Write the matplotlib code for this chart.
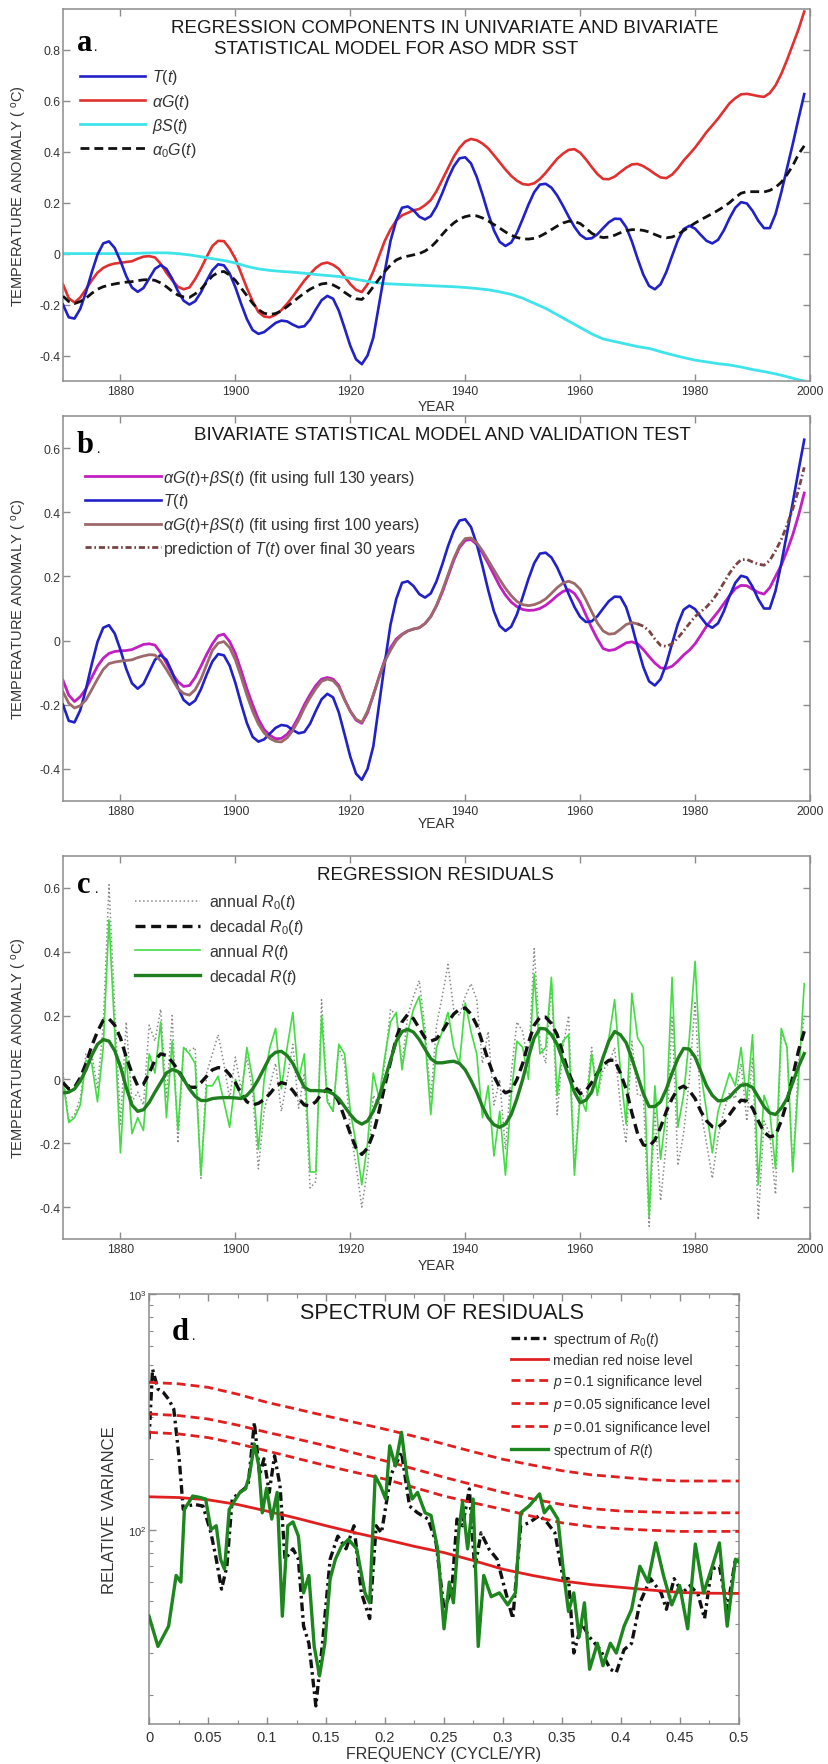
import numpy as np
import matplotlib
matplotlib.use('Agg')
import matplotlib.pyplot as plt
from matplotlib.ticker import FixedLocator, FuncFormatter, LogLocator, NullFormatter

plt.rcParams['font.family'] = ['Liberation Sans', 'DejaVu Sans']
plt.rcParams['mathtext.fontset'] = 'custom'
plt.rcParams['mathtext.rm'] = 'Liberation Sans'
plt.rcParams['mathtext.it'] = 'Liberation Sans:italic'
plt.rcParams['mathtext.bf'] = 'Liberation Sans:bold'
plt.rcParams['axes.unicode_minus'] = False

# ---------------- data ----------------
years1 = list(range(1870, 2000))
years2 = list(range(1870, 1999, 2)) + [1999]
years_fit100 = list(range(1870, 1971))
years_pred = list(range(1970, 2000))

T_t = [-0.20, -0.25, -0.255, -0.217, -0.151, -0.074, -0.004, 0.040, 0.048, 0.022,
       -0.029, -0.088, -0.133, -0.15, -0.135, -0.0975, -0.060, -0.045, -0.060, -0.0985,
       -0.147, -0.185, -0.20, -0.187, -0.152, -0.106, -0.065, -0.042, -0.046, -0.078,
       -0.132, -0.197, -0.257, -0.30, -0.315, -0.308, -0.29, -0.272, -0.263, -0.266,
       -0.279, -0.289, -0.285, -0.259, -0.219, -0.183, -0.166, -0.177, -0.224, -0.292,
       -0.362, -0.415, -0.434, -0.40, -0.33, -0.20, -0.07, 0.05, 0.13, 0.18,
       0.185, 0.17, 0.145, 0.134, 0.147, 0.185, 0.237, 0.294, 0.342, 0.374,
       0.378, 0.354, 0.301, 0.232, 0.157, 0.091, 0.046, 0.03, 0.0435, 0.082,
       0.136, 0.192, 0.241, 0.271, 0.274, 0.259, 0.228, 0.188, 0.145, 0.105,
       0.074, 0.058, 0.06, 0.076, 0.10, 0.123, 0.137, 0.136, 0.104, 0.048,
       -0.02, -0.083, -0.127, -0.14, -0.12, -0.072, -0.009, 0.052, 0.096, 0.109,
       0.098, 0.073, 0.05, 0.04, 0.054, 0.091, 0.139, 0.18, 0.202, 0.197,
       0.168, 0.129, 0.10, 0.10, 0.155, 0.24, 0.335, 0.43, 0.53, 0.626]

alphaG = [-0.121, -0.175, -0.192, -0.172, -0.14, -0.105, -0.075, -0.056, -0.045, -0.039,
          -0.036, -0.033, -0.03, -0.02, -0.012, -0.01, -0.015, -0.04, -0.0755, -0.105,
          -0.13, -0.14, -0.133, -0.1, -0.059, -0.013, 0.03, 0.05, 0.049, 0.02,
          -0.02, -0.078, -0.135, -0.187, -0.229, -0.247, -0.25, -0.24, -0.222, -0.197,
          -0.168, -0.137, -0.106, -0.08, -0.056, -0.04, -0.035, -0.044, -0.06, -0.09,
          -0.12, -0.142, -0.151, -0.12, -0.07, -0.01, 0.05, 0.095, 0.13, 0.15,
          0.16, 0.17, 0.175, 0.19, 0.21, 0.245, 0.29, 0.335, 0.38, 0.415,
          0.44, 0.45, 0.445, 0.432, 0.413, 0.386, 0.358, 0.33, 0.305, 0.286,
          0.273, 0.27, 0.276, 0.293, 0.317, 0.345, 0.372, 0.392, 0.407, 0.41,
          0.396, 0.37, 0.34, 0.312, 0.293, 0.292, 0.302, 0.32, 0.337, 0.35,
          0.352, 0.343, 0.329, 0.313, 0.299, 0.296, 0.31, 0.335, 0.365, 0.39,
          0.416, 0.446, 0.477, 0.503, 0.53, 0.56, 0.59, 0.61, 0.625, 0.627,
          0.623, 0.618, 0.615, 0.63, 0.66, 0.705, 0.76, 0.82, 0.88, 0.95]

betaS = [0, 0, 0, 0, 0, 0, 0, 0.002, 0.003, 0.003,
         0.0, -0.005, -0.012, -0.02, -0.027, -0.037, -0.05, -0.06, -0.066, -0.07,
         -0.073, -0.077, -0.082, -0.086, -0.09, -0.097, -0.105, -0.113, -0.118, -0.12,
         -0.122, -0.124, -0.126, -0.128, -0.13, -0.133, -0.137, -0.142, -0.15, -0.16,
         -0.175, -0.195, -0.215, -0.24, -0.265, -0.29, -0.315, -0.335, -0.345, -0.355,
         -0.365, -0.372, -0.385, -0.397, -0.408, -0.418, -0.425, -0.432, -0.437, -0.445,
         -0.455, -0.463, -0.472, -0.483, -0.495, -0.50]

alpha0G = [-0.167, -0.188, -0.196, -0.188, -0.175, -0.156, -0.14, -0.13, -0.124, -0.119,
           -0.115, -0.112, -0.11, -0.106, -0.103, -0.102, -0.105, -0.115, -0.13, -0.148,
           -0.163, -0.17, -0.172, -0.158, -0.14, -0.113, -0.088, -0.074, -0.07, -0.084,
           -0.105, -0.135, -0.165, -0.195, -0.22, -0.234, -0.239, -0.235, -0.225, -0.208,
           -0.19, -0.172, -0.155, -0.14, -0.128, -0.119, -0.116, -0.123, -0.135, -0.152,
           -0.167, -0.177, -0.18, -0.16, -0.13, -0.1, -0.07, -0.045, -0.025, -0.015,
           -0.01, -0.005, 0.0, 0.01, 0.025, 0.048, 0.075, 0.1, 0.12, 0.136,
           0.145, 0.15, 0.148, 0.14, 0.128, 0.114, 0.1, 0.085, 0.072, 0.063,
           0.058, 0.057, 0.06, 0.068, 0.08, 0.094, 0.108, 0.12, 0.127, 0.126,
           0.118, 0.1, 0.08, 0.068, 0.063, 0.065, 0.072, 0.082, 0.09, 0.094,
           0.094, 0.091, 0.085, 0.075, 0.066, 0.062, 0.065, 0.075, 0.09, 0.105,
           0.12, 0.133, 0.145, 0.157, 0.17, 0.184, 0.2, 0.22, 0.237, 0.243,
           0.243, 0.243, 0.242, 0.248, 0.26, 0.28, 0.31, 0.345, 0.39, 0.423]

fit_full = [-0.124, -0.17, -0.19, -0.175, -0.15, -0.115, -0.08, -0.055, -0.04, -0.034,
            -0.032, -0.031, -0.028, -0.02, -0.012, -0.01, -0.014, -0.038, -0.07, -0.103,
            -0.128, -0.143, -0.14, -0.115, -0.08, -0.043, -0.01, 0.015, 0.02, -0.003,
            -0.04, -0.093, -0.15, -0.2, -0.245, -0.277, -0.295, -0.306, -0.305, -0.292,
            -0.27, -0.238, -0.2, -0.168, -0.14, -0.12, -0.115, -0.12, -0.14, -0.183,
            -0.22, -0.248, -0.258, -0.225, -0.17, -0.113, -0.06, -0.022, 0.005, 0.02,
            0.03, 0.036, 0.04, 0.053, 0.075, 0.108, 0.15, 0.2, 0.25, 0.29,
            0.312, 0.315, 0.3, 0.273, 0.24, 0.205, 0.17, 0.142, 0.12, 0.106,
            0.097, 0.094, 0.095, 0.1, 0.11, 0.124, 0.14, 0.153, 0.159, 0.147,
            0.12, 0.08, 0.04, 0.005, -0.025, -0.031, -0.028, -0.018, -0.007, -0.004,
            -0.01, -0.028, -0.05, -0.07, -0.085, -0.087, -0.08, -0.064, -0.045, -0.03,
            -0.01, 0.017, 0.045, 0.068, 0.09, 0.115, 0.14, 0.162, 0.172, 0.171,
            0.16, 0.15, 0.145, 0.165, 0.2, 0.235, 0.28, 0.33, 0.39, 0.46]

fit_100 = [-0.16, -0.195, -0.21, -0.203, -0.185, -0.153, -0.12, -0.09, -0.072, -0.067,
           -0.064, -0.062, -0.06, -0.053, -0.048, -0.044, -0.045, -0.063, -0.09, -0.12,
           -0.15, -0.165, -0.17, -0.153, -0.12, -0.075, -0.03, -0.008, -0.003, -0.022,
           -0.06, -0.113, -0.17, -0.22, -0.26, -0.288, -0.305, -0.314, -0.316, -0.303,
           -0.28, -0.248, -0.21, -0.178, -0.15, -0.127, -0.12, -0.125, -0.145, -0.185,
           -0.22, -0.245, -0.255, -0.22, -0.17, -0.115, -0.065, -0.03, 0.0, 0.018,
           0.03, 0.036, 0.04, 0.053, 0.075, 0.11, 0.155, 0.205, 0.255, 0.295,
           0.318, 0.32, 0.305, 0.28, 0.25, 0.22, 0.19, 0.163, 0.14, 0.122,
           0.112, 0.109, 0.112, 0.119, 0.13, 0.147, 0.165, 0.179, 0.185, 0.178,
           0.16, 0.127, 0.09, 0.055, 0.03, 0.02, 0.022, 0.035, 0.05, 0.056,
           0.052]

prediction = [0.052, 0.045, 0.03, 0.005, -0.015, -0.018, -0.01, 0.008, 0.03, 0.053,
              0.075, 0.09, 0.105, 0.125, 0.15, 0.18, 0.21, 0.235, 0.252, 0.253,
              0.245, 0.238, 0.235, 0.25, 0.28, 0.315, 0.36, 0.41, 0.47, 0.54]

annual_R0 = [0.02, -0.13, -0.11, -0.06, 0.08, 0.08, -0.03, 0.17, 0.61, 0.22,
             -0.14, 0.18, -0.07, -0.04, -0.08, 0.17, 0.12, 0.22, -0.06, 0.2,
             -0.2, 0.1, 0.09, 0.1, -0.31, 0.02, 0.08, 0.14, 0.05, -0.06,
             0.07, -0.03, 0.07, -0.04, -0.28, -0.1, -0.02, 0.05, -0.1, 0.0,
             0.11, -0.09, 0.02, -0.34, -0.32, 0.25, -0.06, -0.1, 0.1, 0.05,
             -0.16, -0.27, -0.4, -0.28, -0.05, -0.08, 0.05, 0.22, 0.2, 0.05,
             0.2, 0.26, 0.31, 0.16, -0.06, 0.17, 0.26, 0.36, 0.22, 0.2,
             0.26, 0.3, 0.25, 0.05, 0.15, -0.08, 0.0, -0.22, 0.02, 0.18,
             0.15, 0.04, 0.41, 0.12, 0.05, 0.3, -0.11, 0.1, 0.2, -0.28,
             -0.03, -0.07, 0.1, -0.05, 0.03, 0.05, 0.1, -0.08, -0.2, 0.12,
             -0.05, -0.05, -0.46, -0.1, -0.38, -0.2, 0.2, -0.27, -0.17, 0.0,
             0.24, -0.1, -0.2, -0.31, -0.18, -0.1, -0.04, -0.06, 0.05, -0.13,
             0.07, -0.44, -0.13, -0.17, -0.36, 0.15, 0.1, -0.28, 0.05, 0.2]

annual_R = [-0.005, -0.135, -0.12, -0.08, 0.06, 0.05, -0.07, 0.1, 0.5, 0.15,
            -0.23, 0.08, -0.17, -0.12, -0.16, 0.08, 0.02, 0.18, -0.12, 0.12,
            -0.16, 0.1, 0.08, 0.05, -0.3, -0.02, -0.02, 0.01, -0.07, -0.15,
            0.0, -0.06, 0.1, 0.0, -0.22, 0.0, 0.1, 0.16, -0.03, 0.1,
            0.21, 0.0, 0.08, -0.29, -0.29, 0.2, -0.07, -0.1, 0.11, 0.08,
            -0.1, -0.2, -0.33, -0.2, 0.02, -0.06, 0.07, 0.18, 0.21, 0.03,
            0.15, 0.22, 0.26, 0.13, -0.11, 0.1, 0.15, 0.21, 0.1, 0.05,
            0.24, 0.15, 0.08, -0.12, -0.02, -0.24, -0.1, -0.3, -0.05, 0.12,
            0.1, 0.0, 0.33, 0.08, 0.1, 0.32, -0.05, 0.12, 0.14, -0.3,
            -0.05, -0.1, 0.08, -0.05, 0.07, 0.13, 0.25, 0.03, -0.14, 0.27,
            0.13, 0.1, -0.43, -0.02, -0.25, -0.1, 0.32, -0.15, -0.05, 0.13,
            0.37, 0.02, -0.1, -0.23, -0.1, -0.04, 0.02, -0.02, 0.1, -0.07,
            0.14, -0.33, -0.05, -0.1, -0.28, 0.16, 0.1, -0.29, 0.0, 0.3]

decadal_R0 = [-0.01, -0.03, -0.025, 0.005, 0.05, 0.105, 0.15, 0.185, 0.19, 0.17,
              0.13, 0.07, 0.02, -0.02, -0.015, 0.02, 0.06, 0.08, 0.075, 0.055,
              0.03, 0.0, -0.024, -0.025, -0.01, 0.01, 0.03, 0.037, 0.035, 0.015,
              -0.01, -0.045, -0.07, -0.08, -0.075, -0.063, -0.045, -0.022, -0.01, -0.015,
              -0.035, -0.06, -0.08, -0.083, -0.07, -0.045, -0.03, -0.04, -0.07, -0.12,
              -0.17, -0.215, -0.235, -0.215, -0.17, -0.1, -0.02, 0.055, 0.13, 0.18,
              0.204, 0.19, 0.16, 0.13, 0.12, 0.127, 0.15, 0.18, 0.205, 0.22,
              0.224, 0.205, 0.17, 0.115, 0.06, 0.01, -0.025, -0.042, -0.035, 0.0,
              0.05, 0.115, 0.17, 0.195, 0.195, 0.175, 0.14, 0.08, 0.02, -0.02,
              -0.045, -0.035, -0.01, 0.02, 0.045, 0.06, 0.06, 0.02, -0.03, -0.105,
              -0.17, -0.205, -0.21, -0.19, -0.15, -0.1, -0.06, -0.03, -0.021, -0.035,
              -0.06, -0.1, -0.13, -0.148, -0.15, -0.135, -0.11, -0.085, -0.065, -0.068,
              -0.09, -0.13, -0.165, -0.18, -0.175, -0.13, -0.07, 0.01, 0.09, 0.151]

decadal_R = [-0.042, -0.04, -0.03, -0.005, 0.03, 0.075, 0.11, 0.125, 0.12, 0.09,
             0.04, -0.025, -0.08, -0.1, -0.095, -0.072, -0.04, -0.01, 0.02, 0.031,
             0.025, 0.0, -0.03, -0.053, -0.066, -0.066, -0.06, -0.058, -0.057, -0.057,
             -0.058, -0.06, -0.05, -0.03, 0.0, 0.035, 0.07, 0.085, 0.088, 0.075,
             0.05, 0.012, -0.025, -0.035, -0.035, -0.036, -0.037, -0.045, -0.06, -0.085,
             -0.11, -0.13, -0.14, -0.13, -0.1, -0.055, 0.0, 0.06, 0.12, 0.15,
             0.157, 0.148, 0.125, 0.095, 0.065, 0.052, 0.052, 0.055, 0.057, 0.05,
             0.03, -0.003, -0.04, -0.085, -0.12, -0.142, -0.15, -0.14, -0.11, -0.06,
             0.0, 0.07, 0.13, 0.16, 0.158, 0.14, 0.11, 0.06, 0.01, -0.04,
             -0.073, -0.065, -0.04, 0.015, 0.07, 0.12, 0.15, 0.14, 0.115, 0.065,
             0.01, -0.045, -0.085, -0.085, -0.07, -0.03, 0.02, 0.065, 0.097, 0.095,
             0.07, 0.025, -0.02, -0.05, -0.067, -0.066, -0.055, -0.035, -0.018, -0.016,
             -0.025, -0.055, -0.085, -0.105, -0.11, -0.09, -0.06, -0.01, 0.04, 0.081]

# spectra
freq_levels = [0.0, 0.025, 0.05, 0.075, 0.1, 0.125, 0.15, 0.175, 0.2, 0.225, 0.25,
               0.275, 0.3, 0.325, 0.35, 0.375, 0.4, 0.425, 0.45, 0.475, 0.5]
red_median = [138, 137, 134, 128, 120, 112, 104, 97, 91, 85, 80,
              74, 68, 64, 60.7, 58.5, 57, 55.5, 54.2, 53.8, 53.7]
sig_p10 = [422, 416, 402, 376, 347, 325, 304, 285, 267, 249, 231,
           214, 199, 188, 178, 171, 167, 163, 161, 161, 161]
sig_p05 = [310, 305, 295, 278, 259, 243, 227, 211, 196, 181, 167,
           155, 144, 135, 128, 123, 120, 119, 118, 118, 118]
sig_p01 = [259, 255, 246, 232, 216, 201, 187, 175, 164, 151, 139,
           130, 122, 114, 107, 103, 101, 99.5, 98.4, 98.4, 98.4]

freq_R = [0.0, 0.0076, 0.0166, 0.023, 0.027, 0.030, 0.037, 0.0435, 0.048, 0.0525,
          0.057, 0.0606, 0.064, 0.068, 0.077, 0.0817, 0.085, 0.0893, 0.093, 0.096,
          0.0996, 0.104, 0.1086, 0.113, 0.1176, 0.122, 0.1266, 0.131, 0.1355, 0.140,
          0.1445, 0.149, 0.1535, 0.158, 0.163, 0.169, 0.176, 0.183, 0.187, 0.1917,
          0.196, 0.2006, 0.204, 0.2087, 0.214, 0.2186, 0.223, 0.2276, 0.234, 0.239,
          0.2446, 0.25, 0.2545, 0.258, 0.2626, 0.2657, 0.270, 0.2747, 0.279, 0.2837,
          0.290, 0.297, 0.304, 0.3106, 0.315, 0.322, 0.331, 0.335, 0.3397, 0.3465,
          0.351, 0.3555, 0.36, 0.3645, 0.369, 0.3734, 0.380, 0.3847, 0.391, 0.396,
          0.4026, 0.409, 0.416, 0.4228, 0.4295, 0.436, 0.443, 0.4497, 0.4565, 0.463,
          0.470, 0.4766, 0.4834, 0.490, 0.497, 0.5]
spec_R = [43, 32, 39, 64, 60, 122, 139, 137, 135, 100,
          104, 75, 68, 122, 144, 149, 169, 231, 187, 118,
          150, 111, 144, 43, 104, 108, 94, 54, 64, 32,
          24, 33, 62, 75, 85, 91, 83, 54, 49, 169,
          154, 135, 227, 187, 259, 169, 135, 144, 118, 115,
          83, 38, 60, 49, 100, 131, 83, 135, 32, 64,
          52, 54, 48, 54, 118, 126, 142, 118, 126, 111,
          68, 45, 54, 35, 49, 25.6, 33, 26.5, 33, 30,
          39, 46, 70, 60, 88, 64, 48, 58, 38, 87,
          54, 68, 88, 39, 75, 73]

freq_R0 = [0.0, 0.003, 0.0076, 0.012, 0.0166, 0.021, 0.0256, 0.029, 0.032, 0.039,
           0.0458, 0.0525, 0.057, 0.0615, 0.066, 0.0705, 0.077, 0.084, 0.0893, 0.0938,
           0.0974, 0.1019, 0.1064, 0.111, 0.1153, 0.122, 0.1266, 0.131, 0.1355, 0.1414,
           0.147, 0.1535, 0.160, 0.167, 0.1737, 0.180, 0.187, 0.1925, 0.197, 0.205,
           0.214, 0.2208, 0.2276, 0.2365, 0.2433, 0.25, 0.2567, 0.261, 0.2657, 0.2715,
           0.276, 0.2814, 0.288, 0.295, 0.3016, 0.3083, 0.315, 0.322, 0.331, 0.3375,
           0.344, 0.351, 0.3555, 0.36, 0.3667, 0.3734, 0.3824, 0.391, 0.396, 0.4026,
           0.409, 0.416, 0.425, 0.434, 0.4385, 0.445, 0.452, 0.4587, 0.4654, 0.4708,
           0.4766, 0.4834, 0.490, 0.497, 0.5]
spec_R0 = [242, 480, 395, 383, 358, 325, 200, 122, 126, 128,
           126, 97, 75, 56, 70, 135, 144, 154, 285, 171,
           200, 144, 206, 154, 75, 83, 75, 39, 33, 17.9,
           33, 75, 94, 83, 104, 54, 42, 104, 97, 171,
           213, 126, 118, 111, 88, 46, 56, 111, 104, 149,
           68, 97, 83, 75, 56, 42, 104, 107, 115, 107,
           97, 62, 62, 30, 40, 35, 31, 25.6, 24.8, 31,
           33, 49, 62, 54, 46, 62, 54, 58, 53, 42,
           68, 70, 46, 75, 75]

# ---------------- figure ----------------
fig = plt.figure(figsize=(8.29, 17.65), dpi=100)
FW, FH = 829.0, 1765.0

def add_ax(l, r, t, b):
    return fig.add_axes([l / FW, 1 - b / FH, (r - l) / FW, (b - t) / FH])

ax_a = add_ax(63, 810, 10, 382)
ax_b = add_ax(63, 810, 417, 802)
ax_c = add_ax(63, 810, 857, 1240)
ax_d = add_ax(149, 739, 1295, 1725)

SPINE = '#8c8c8c'
LABC = '#333333'
TITC = '#1a1a1a'

def style(ax):
    for s in ax.spines.values():
        s.set_color(SPINE)
        s.set_linewidth(1.1)
    ax.tick_params(which='both', direction='in', top=True, right=True,
                   color=SPINE, labelcolor=LABC)
    ax.tick_params(which='major', length=5, width=1)
    ax.tick_params(which='minor', length=3, width=0.8)
    ax.tick_params(axis='x', pad=3)
    ax.tick_params(axis='y', pad=2)

fmt = FuncFormatter(lambda v, p: ('%g' % round(v, 3)))

def year_axes(ax, ylo, yhi, yticks):
    style(ax)
    ax.set_xlim(1870, 2000)
    ax.set_ylim(ylo, yhi)
    ax.xaxis.set_major_locator(FixedLocator([1880, 1900, 1920, 1940, 1960, 1980, 2000]))
    ax.yaxis.set_major_locator(FixedLocator(yticks))
    ax.yaxis.set_major_formatter(fmt)
    ax.tick_params(labelsize=8.8)
    ax.set_xlabel('YEAR', fontsize=10, color=LABC)
    ax.set_ylabel(r'TEMPERATURE ANOMALY ( $^{\rm o}$C)', fontsize=10.5, color=LABC)
    ax.yaxis.set_label_coords(-0.046, 0.5)

def letter(ax, ch, x, y, xdot):
    ax.text(x, y, ch, transform=ax.transAxes, fontfamily='Liberation Serif',
            fontweight='bold', fontsize=22, va='baseline', ha='left')
    ax.text(xdot, y, '.', transform=ax.transAxes, fontfamily='Liberation Serif',
            fontsize=10, va='baseline', ha='left')

LEGF = 11.5

# ---- panel a ----
ax = ax_a
l1, = ax.plot(years1, T_t, color='#2121c8', lw=1.9, zorder=3)
l2, = ax.plot(years1, alphaG, color='#e03030', lw=1.9, zorder=2)
l3, = ax.plot(years2, betaS, color='#3fe3ea', lw=2.0, zorder=2)
l4, = ax.plot(years1, alpha0G, color='#111111', lw=2.0, dashes=(3.2, 1.8), zorder=4)
year_axes(ax, -0.5, 0.96, [-0.4, -0.2, 0, 0.2, 0.4, 0.6, 0.8])
ax.xaxis.set_label_coords(0.5, -0.048)
ax.text(0.511, 0.949, 'REGRESSION COMPONENTS IN UNIVARIATE AND BIVARIATE',
        transform=ax.transAxes, ha='center', va='center', fontsize=13.5, color=TITC)
ax.text(0.202, 0.895, 'STATISTICAL MODEL FOR ASO MDR SST',
        transform=ax.transAxes, ha='left', va='center', fontsize=13.5, color=TITC)
letter(ax, 'a', 0.0187, 0.891, 0.040)
ax.legend([l1, l2, l3, l4], [r'$T(t)$', r'$\alpha G(t)$', r'$\beta S(t)$', r'$\alpha_0 G(t)$'],
          loc='upper left', bbox_to_anchor=(0.0228, 0.843), frameon=False,
          borderpad=0, borderaxespad=0, fontsize=LEGF, handlelength=4.06,
          handletextpad=0.44, labelspacing=0.32, labelcolor=LABC)

# ---- panel b ----
ax = ax_b
m1, = ax.plot(years1, fit_full, color='#c21fc2', lw=2.0, zorder=2)
m2, = ax.plot(years1, T_t, color='#2121c8', lw=1.9, zorder=3)
m3, = ax.plot(years_fit100, fit_100, color='#9c6a6a', lw=2.0, zorder=4)
m4, = ax.plot(years_pred, prediction, color='#7a4444', lw=2.0, dashes=(2.2, 1.0, 0.6, 1.0), zorder=4)
year_axes(ax, -0.5, 0.7, [-0.4, -0.2, 0, 0.2, 0.4, 0.6])
ax.xaxis.set_label_coords(0.5, -0.039)
ax.text(0.508, 0.951, 'BIVARIATE STATISTICAL MODEL AND VALIDATION TEST',
        transform=ax.transAxes, ha='center', va='center', fontsize=13.5, color=TITC)
letter(ax, 'b', 0.0187, 0.906, 0.044)
ax.legend([m1, m2, m3, m4],
          [r'$\alpha G(t)$+$\beta S(t)$ (fit using full 130 years)', r'$T(t)$',
           r'$\alpha G(t)$+$\beta S(t)$ (fit using first 100 years)',
           r'prediction of $T(t)$ over final 30 years'],
          loc='upper left', bbox_to_anchor=(0.0295, 0.866), frameon=False,
          borderpad=0, borderaxespad=0, fontsize=LEGF, handlelength=4.75,
          handletextpad=0.1, labelspacing=0.3, labelcolor=LABC)

# ---- panel c ----
ax = ax_c
n1, = ax.plot(years1, annual_R0, color='#8a8a8a', lw=1.1, ls=':', zorder=1)
n3, = ax.plot(years1, annual_R, color='#42dd42', lw=1.2, zorder=2)
n2, = ax.plot(years1, decadal_R0, color='#111111', lw=2.4, dashes=(3.0, 1.7), zorder=3)
n4, = ax.plot(years1, decadal_R, color='#1f7f1f', lw=2.4, zorder=4)
year_axes(ax, -0.5, 0.7, [-0.4, -0.2, 0, 0.2, 0.4, 0.6])
ax.xaxis.set_label_coords(0.5, -0.0496)
ax.text(0.499, 0.953, 'REGRESSION RESIDUALS', transform=ax.transAxes,
        ha='center', va='center', fontsize=13.5, color=TITC)
letter(ax, 'c', 0.0187, 0.906, 0.0415)
ax.legend([n1, n2, n3, n4],
          [r'annual $R_0(t)$', r'decadal $R_0(t)$', r'annual $R(t)$', r'decadal $R(t)$'],
          loc='upper left', bbox_to_anchor=(0.0964, 0.905), frameon=False,
          borderpad=0, borderaxespad=0, fontsize=LEGF, handlelength=4.06,
          handletextpad=0.6, labelspacing=0.36, labelcolor=LABC)

# ---- panel d ----
ax = ax_d
style(ax)
p1, = ax.plot(freq_R0, spec_R0, color='#111111', lw=2.4, dashes=(2.6, 1.2, 0.8, 1.2), zorder=2)
p2, = ax.plot(freq_levels, red_median, color='#e02020', lw=2.0, zorder=3)
p3, = ax.plot(freq_levels, sig_p10, color='#e02020', lw=2.0, dashes=(3.2, 1.8), zorder=3)
p4, = ax.plot(freq_levels, sig_p05, color='#e02020', lw=2.0, dashes=(3.2, 1.8), zorder=3)
p5, = ax.plot(freq_levels, sig_p01, color='#e02020', lw=2.0, dashes=(3.2, 1.8), zorder=3)
p6, = ax.plot(freq_R, spec_R, color='#1e861e', lw=2.4, zorder=4)
ax.set_yscale('log')
ax.set_xlim(0, 0.5)
ax.set_ylim(15, 1000)
ax.xaxis.set_major_locator(FixedLocator([0, 0.05, 0.1, 0.15, 0.2, 0.25, 0.3, 0.35, 0.4, 0.45, 0.5]))
ax.xaxis.set_minor_locator(FixedLocator([0.025, 0.075, 0.125, 0.175, 0.225, 0.275,
                                         0.325, 0.375, 0.425, 0.475]))
ax.xaxis.set_major_formatter(fmt)
ax.yaxis.set_major_locator(LogLocator(base=10))
ax.yaxis.set_minor_locator(LogLocator(base=10, subs=np.arange(2, 10)))
ax.yaxis.set_minor_formatter(NullFormatter())
ax.tick_params(axis='x', labelsize=10.5, pad=4)
ax.tick_params(axis='y', labelsize=8)
ax.set_xlabel('FREQUENCY (CYCLE/YR)', fontsize=11.5, color=LABC)
ax.xaxis.set_label_coords(0.5, -0.051)
ax.set_ylabel('RELATIVE VARIANCE', fontsize=12, color=LABC)
ax.yaxis.set_label_coords(-0.055, 0.5)
ax.text(0.497, 0.957, 'SPECTRUM OF RESIDUALS', transform=ax.transAxes,
        ha='center', va='center', fontsize=15.5, color=TITC)
letter(ax, 'd', 0.039, 0.895, 0.072)
ax.legend([p1, p2, p3, p4, p5, p6],
          [r'spectrum of $R_0(t)$', 'median red noise level',
           r'$\mathit{p{=}0.1}$ significance level',
           r'$\mathit{p{=}0.05}$ significance level',
           r'$\mathit{p{=}0.01}$ significance level',
           r'spectrum of $R(t)$'],
          loc='upper left', bbox_to_anchor=(0.6136, 0.916), frameon=False,
          borderpad=0, borderaxespad=0, fontsize=10, handlelength=2.66,
          handletextpad=0.36, labelspacing=0.36, labelcolor=LABC)

fig.savefig('out.png', dpi=100)
